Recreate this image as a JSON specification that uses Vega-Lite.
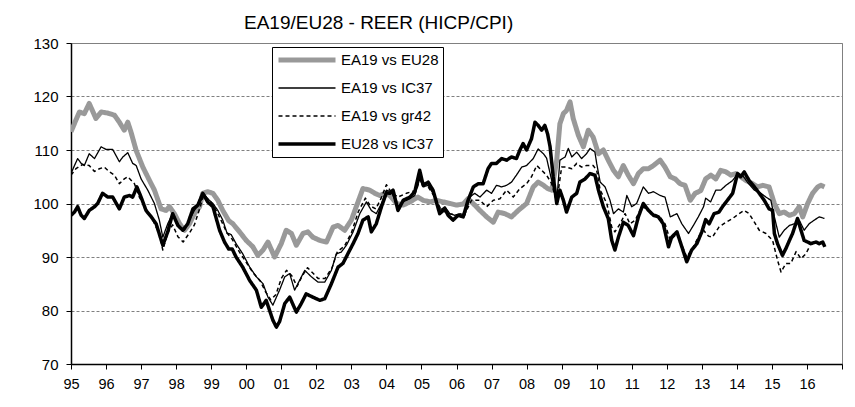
{
"$schema":"https://vega.github.io/schema/vega-lite/v6.json",
"width":771,"height":321,
"autosize":{"type":"none"},
"padding":{"left":71,"top":43,"right":13,"bottom":43},
"background":"white",
"title":{"text":"EA19/EU28 - REER (HICP/CPI)","font":"Liberation Sans","fontSize":19,"fontWeight":"normal","color":"black","anchor":"start","dx":211,"offset":-12,"baseline":"alphabetic"},
"config":{"view":{"stroke":"#808080","strokeWidth":1},
"axis":{"labelFont":"Liberation Sans","labelFontSize":15,"labelColor":"black","domainColor":"black","domainWidth":1.5,"tickColor":"black","tickSize":5,"title":null}},
"datasets":{"rows":[
{"s":"EA19 vs EU28","t":1995.0,"v":113.4},{"s":"EA19 vs EU28","t":1995.14,"v":115.6},{"s":"EA19 vs EU28","t":1995.24,"v":117.1},{"s":"EA19 vs EU28","t":1995.38,"v":116.8},{"s":"EA19 vs EU28","t":1995.52,"v":118.7},{"s":"EA19 vs EU28","t":1995.71,"v":115.9},{"s":"EA19 vs EU28","t":1995.86,"v":117.1},{"s":"EA19 vs EU28","t":1996.05,"v":116.9},{"s":"EA19 vs EU28","t":1996.24,"v":116.5},{"s":"EA19 vs EU28","t":1996.38,"v":115.2},{"s":"EA19 vs EU28","t":1996.52,"v":113.7},{"s":"EA19 vs EU28","t":1996.62,"v":115.2},{"s":"EA19 vs EU28","t":1996.71,"v":113.4},{"s":"EA19 vs EU28","t":1996.86,"v":109.9},{"s":"EA19 vs EU28","t":1997.05,"v":106.8},{"s":"EA19 vs EU28","t":1997.24,"v":104.3},{"s":"EA19 vs EU28","t":1997.38,"v":102.5},{"s":"EA19 vs EU28","t":1997.57,"v":99.0},{"s":"EA19 vs EU28","t":1997.71,"v":98.7},{"s":"EA19 vs EU28","t":1997.81,"v":99.4},{"s":"EA19 vs EU28","t":1997.95,"v":98.1},{"s":"EA19 vs EU28","t":1998.1,"v":96.2},{"s":"EA19 vs EU28","t":1998.24,"v":95.0},{"s":"EA19 vs EU28","t":1998.38,"v":96.2},{"s":"EA19 vs EU28","t":1998.52,"v":98.1},{"s":"EA19 vs EU28","t":1998.67,"v":99.4},{"s":"EA19 vs EU28","t":1998.76,"v":101.9},{"s":"EA19 vs EU28","t":1998.9,"v":102.2},{"s":"EA19 vs EU28","t":1999.05,"v":101.9},{"s":"EA19 vs EU28","t":1999.19,"v":100.6},{"s":"EA19 vs EU28","t":1999.33,"v":98.7},{"s":"EA19 vs EU28","t":1999.5,"v":96.8},{"s":"EA19 vs EU28","t":1999.62,"v":96.2},{"s":"EA19 vs EU28","t":1999.81,"v":94.7},{"s":"EA19 vs EU28","t":2000.0,"v":93.1},{"s":"EA19 vs EU28","t":2000.19,"v":91.9},{"s":"EA19 vs EU28","t":2000.33,"v":90.3},{"s":"EA19 vs EU28","t":2000.48,"v":91.3},{"s":"EA19 vs EU28","t":2000.62,"v":92.8},{"s":"EA19 vs EU28","t":2000.81,"v":90.0},{"s":"EA19 vs EU28","t":2001.0,"v":92.5},{"s":"EA19 vs EU28","t":2001.14,"v":95.0},{"s":"EA19 vs EU28","t":2001.29,"v":94.4},{"s":"EA19 vs EU28","t":2001.43,"v":92.2},{"s":"EA19 vs EU28","t":2001.62,"v":94.4},{"s":"EA19 vs EU28","t":2001.76,"v":94.7},{"s":"EA19 vs EU28","t":2001.9,"v":93.7},{"s":"EA19 vs EU28","t":2002.1,"v":93.1},{"s":"EA19 vs EU28","t":2002.29,"v":92.8},{"s":"EA19 vs EU28","t":2002.48,"v":95.6},{"s":"EA19 vs EU28","t":2002.62,"v":95.9},{"s":"EA19 vs EU28","t":2002.81,"v":95.0},{"s":"EA19 vs EU28","t":2003.0,"v":96.9},{"s":"EA19 vs EU28","t":2003.14,"v":99.4},{"s":"EA19 vs EU28","t":2003.33,"v":102.8},{"s":"EA19 vs EU28","t":2003.52,"v":102.5},{"s":"EA19 vs EU28","t":2003.67,"v":101.9},{"s":"EA19 vs EU28","t":2003.81,"v":101.5},{"s":"EA19 vs EU28","t":2004.0,"v":102.0},{"s":"EA19 vs EU28","t":2004.14,"v":101.2},{"s":"EA19 vs EU28","t":2004.29,"v":100.0},{"s":"EA19 vs EU28","t":2004.48,"v":99.7},{"s":"EA19 vs EU28","t":2004.67,"v":100.3},{"s":"EA19 vs EU28","t":2004.9,"v":101.2},{"s":"EA19 vs EU28","t":2005.05,"v":100.6},{"s":"EA19 vs EU28","t":2005.24,"v":100.3},{"s":"EA19 vs EU28","t":2005.43,"v":100.6},{"s":"EA19 vs EU28","t":2005.62,"v":100.3},{"s":"EA19 vs EU28","t":2005.81,"v":100.0},{"s":"EA19 vs EU28","t":2006.0,"v":99.7},{"s":"EA19 vs EU28","t":2006.19,"v":99.9},{"s":"EA19 vs EU28","t":2006.33,"v":100.9},{"s":"EA19 vs EU28","t":2006.52,"v":99.7},{"s":"EA19 vs EU28","t":2006.67,"v":98.7},{"s":"EA19 vs EU28","t":2006.86,"v":97.5},{"s":"EA19 vs EU28","t":2007.05,"v":96.5},{"s":"EA19 vs EU28","t":2007.19,"v":98.4},{"s":"EA19 vs EU28","t":2007.38,"v":98.1},{"s":"EA19 vs EU28","t":2007.57,"v":97.5},{"s":"EA19 vs EU28","t":2007.76,"v":98.7},{"s":"EA19 vs EU28","t":2008.0,"v":100.0},{"s":"EA19 vs EU28","t":2008.19,"v":103.1},{"s":"EA19 vs EU28","t":2008.33,"v":104.0},{"s":"EA19 vs EU28","t":2008.48,"v":103.4},{"s":"EA19 vs EU28","t":2008.6,"v":102.8},{"s":"EA19 vs EU28","t":2008.72,"v":102.5},{"s":"EA19 vs EU28","t":2008.86,"v":108.1},{"s":"EA19 vs EU28","t":2008.95,"v":114.9},{"s":"EA19 vs EU28","t":2009.05,"v":116.8},{"s":"EA19 vs EU28","t":2009.14,"v":117.4},{"s":"EA19 vs EU28","t":2009.24,"v":119.0},{"s":"EA19 vs EU28","t":2009.33,"v":115.9},{"s":"EA19 vs EU28","t":2009.48,"v":112.7},{"s":"EA19 vs EU28","t":2009.62,"v":110.6},{"s":"EA19 vs EU28","t":2009.76,"v":113.7},{"s":"EA19 vs EU28","t":2009.9,"v":112.4},{"s":"EA19 vs EU28","t":2010.05,"v":109.3},{"s":"EA19 vs EU28","t":2010.19,"v":110.0},{"s":"EA19 vs EU28","t":2010.33,"v":108.1},{"s":"EA19 vs EU28","t":2010.48,"v":106.2},{"s":"EA19 vs EU28","t":2010.62,"v":105.0},{"s":"EA19 vs EU28","t":2010.76,"v":107.1},{"s":"EA19 vs EU28","t":2010.9,"v":105.3},{"s":"EA19 vs EU28","t":2011.05,"v":103.7},{"s":"EA19 vs EU28","t":2011.19,"v":105.6},{"s":"EA19 vs EU28","t":2011.33,"v":106.5},{"s":"EA19 vs EU28","t":2011.48,"v":106.5},{"s":"EA19 vs EU28","t":2011.62,"v":107.1},{"s":"EA19 vs EU28","t":2011.81,"v":108.1},{"s":"EA19 vs EU28","t":2011.95,"v":106.8},{"s":"EA19 vs EU28","t":2012.1,"v":105.0},{"s":"EA19 vs EU28","t":2012.24,"v":104.6},{"s":"EA19 vs EU28","t":2012.38,"v":103.7},{"s":"EA19 vs EU28","t":2012.52,"v":103.4},{"s":"EA19 vs EU28","t":2012.67,"v":100.6},{"s":"EA19 vs EU28","t":2012.81,"v":101.9},{"s":"EA19 vs EU28","t":2012.97,"v":102.4},{"s":"EA19 vs EU28","t":2013.11,"v":104.6},{"s":"EA19 vs EU28","t":2013.26,"v":105.3},{"s":"EA19 vs EU28","t":2013.4,"v":104.6},{"s":"EA19 vs EU28","t":2013.54,"v":106.2},{"s":"EA19 vs EU28","t":2013.69,"v":105.9},{"s":"EA19 vs EU28","t":2013.83,"v":105.3},{"s":"EA19 vs EU28","t":2013.97,"v":105.6},{"s":"EA19 vs EU28","t":2014.11,"v":105.0},{"s":"EA19 vs EU28","t":2014.26,"v":104.3},{"s":"EA19 vs EU28","t":2014.45,"v":103.7},{"s":"EA19 vs EU28","t":2014.59,"v":103.1},{"s":"EA19 vs EU28","t":2014.74,"v":103.4},{"s":"EA19 vs EU28","t":2014.92,"v":103.1},{"s":"EA19 vs EU28","t":2015.07,"v":100.0},{"s":"EA19 vs EU28","t":2015.21,"v":98.1},{"s":"EA19 vs EU28","t":2015.35,"v":98.4},{"s":"EA19 vs EU28","t":2015.5,"v":97.8},{"s":"EA19 vs EU28","t":2015.64,"v":98.1},{"s":"EA19 vs EU28","t":2015.78,"v":99.4},{"s":"EA19 vs EU28","t":2015.88,"v":97.5},{"s":"EA19 vs EU28","t":2016.02,"v":100.0},{"s":"EA19 vs EU28","t":2016.16,"v":101.9},{"s":"EA19 vs EU28","t":2016.31,"v":103.1},{"s":"EA19 vs EU28","t":2016.4,"v":103.4},{"s":"EA19 vs EU28","t":2016.5,"v":103.1},
{"s":"EA19 vs IC37","t":1995.0,"v":105.6},{"s":"EA19 vs IC37","t":1995.1,"v":107.1},{"s":"EA19 vs IC37","t":1995.19,"v":108.4},{"s":"EA19 vs IC37","t":1995.29,"v":107.5},{"s":"EA19 vs IC37","t":1995.38,"v":107.1},{"s":"EA19 vs IC37","t":1995.52,"v":109.3},{"s":"EA19 vs IC37","t":1995.67,"v":108.4},{"s":"EA19 vs IC37","t":1995.86,"v":110.6},{"s":"EA19 vs IC37","t":1996.0,"v":110.1},{"s":"EA19 vs IC37","t":1996.19,"v":110.1},{"s":"EA19 vs IC37","t":1996.38,"v":107.8},{"s":"EA19 vs IC37","t":1996.48,"v":108.7},{"s":"EA19 vs IC37","t":1996.62,"v":109.5},{"s":"EA19 vs IC37","t":1996.76,"v":107.5},{"s":"EA19 vs IC37","t":1996.86,"v":107.1},{"s":"EA19 vs IC37","t":1997.0,"v":104.6},{"s":"EA19 vs IC37","t":1997.19,"v":102.5},{"s":"EA19 vs IC37","t":1997.38,"v":100.0},{"s":"EA19 vs IC37","t":1997.52,"v":96.9},{"s":"EA19 vs IC37","t":1997.62,"v":93.7},{"s":"EA19 vs IC37","t":1997.76,"v":96.2},{"s":"EA19 vs IC37","t":1997.9,"v":98.1},{"s":"EA19 vs IC37","t":1998.1,"v":95.6},{"s":"EA19 vs IC37","t":1998.24,"v":95.0},{"s":"EA19 vs IC37","t":1998.38,"v":96.9},{"s":"EA19 vs IC37","t":1998.52,"v":98.7},{"s":"EA19 vs IC37","t":1998.67,"v":100.0},{"s":"EA19 vs IC37","t":1998.78,"v":101.9},{"s":"EA19 vs IC37","t":1998.9,"v":100.9},{"s":"EA19 vs IC37","t":1999.05,"v":100.0},{"s":"EA19 vs IC37","t":1999.19,"v":98.7},{"s":"EA19 vs IC37","t":1999.33,"v":96.9},{"s":"EA19 vs IC37","t":1999.45,"v":94.5},{"s":"EA19 vs IC37","t":1999.57,"v":94.2},{"s":"EA19 vs IC37","t":1999.71,"v":92.5},{"s":"EA19 vs IC37","t":1999.9,"v":90.6},{"s":"EA19 vs IC37","t":2000.1,"v":88.1},{"s":"EA19 vs IC37","t":2000.29,"v":86.3},{"s":"EA19 vs IC37","t":2000.48,"v":85.0},{"s":"EA19 vs IC37","t":2000.62,"v":82.5},{"s":"EA19 vs IC37","t":2000.76,"v":81.0},{"s":"EA19 vs IC37","t":2000.95,"v":83.8},{"s":"EA19 vs IC37","t":2001.1,"v":86.3},{"s":"EA19 vs IC37","t":2001.24,"v":86.9},{"s":"EA19 vs IC37","t":2001.38,"v":83.8},{"s":"EA19 vs IC37","t":2001.52,"v":85.6},{"s":"EA19 vs IC37","t":2001.67,"v":87.5},{"s":"EA19 vs IC37","t":2001.86,"v":86.3},{"s":"EA19 vs IC37","t":2002.05,"v":85.3},{"s":"EA19 vs IC37","t":2002.24,"v":85.3},{"s":"EA19 vs IC37","t":2002.43,"v":87.5},{"s":"EA19 vs IC37","t":2002.57,"v":90.6},{"s":"EA19 vs IC37","t":2002.71,"v":90.9},{"s":"EA19 vs IC37","t":2002.86,"v":92.2},{"s":"EA19 vs IC37","t":2003.05,"v":94.7},{"s":"EA19 vs IC37","t":2003.24,"v":98.1},{"s":"EA19 vs IC37","t":2003.43,"v":100.3},{"s":"EA19 vs IC37","t":2003.57,"v":98.7},{"s":"EA19 vs IC37","t":2003.71,"v":98.1},{"s":"EA19 vs IC37","t":2003.86,"v":100.0},{"s":"EA19 vs IC37","t":2004.0,"v":102.5},{"s":"EA19 vs IC37","t":2004.14,"v":102.2},{"s":"EA19 vs IC37","t":2004.33,"v":99.4},{"s":"EA19 vs IC37","t":2004.48,"v":100.3},{"s":"EA19 vs IC37","t":2004.67,"v":100.9},{"s":"EA19 vs IC37","t":2004.81,"v":101.5},{"s":"EA19 vs IC37","t":2004.95,"v":104.6},{"s":"EA19 vs IC37","t":2005.05,"v":103.1},{"s":"EA19 vs IC37","t":2005.19,"v":103.4},{"s":"EA19 vs IC37","t":2005.33,"v":101.9},{"s":"EA19 vs IC37","t":2005.52,"v":98.7},{"s":"EA19 vs IC37","t":2005.67,"v":99.4},{"s":"EA19 vs IC37","t":2005.81,"v":98.1},{"s":"EA19 vs IC37","t":2005.95,"v":97.8},{"s":"EA19 vs IC37","t":2006.1,"v":98.1},{"s":"EA19 vs IC37","t":2006.24,"v":97.8},{"s":"EA19 vs IC37","t":2006.38,"v":101.2},{"s":"EA19 vs IC37","t":2006.52,"v":101.9},{"s":"EA19 vs IC37","t":2006.67,"v":101.2},{"s":"EA19 vs IC37","t":2006.86,"v":102.5},{"s":"EA19 vs IC37","t":2007.0,"v":101.9},{"s":"EA19 vs IC37","t":2007.14,"v":103.4},{"s":"EA19 vs IC37","t":2007.29,"v":103.1},{"s":"EA19 vs IC37","t":2007.43,"v":103.4},{"s":"EA19 vs IC37","t":2007.57,"v":104.0},{"s":"EA19 vs IC37","t":2007.71,"v":105.3},{"s":"EA19 vs IC37","t":2007.86,"v":106.8},{"s":"EA19 vs IC37","t":2008.0,"v":107.1},{"s":"EA19 vs IC37","t":2008.19,"v":108.4},{"s":"EA19 vs IC37","t":2008.33,"v":110.2},{"s":"EA19 vs IC37","t":2008.48,"v":109.3},{"s":"EA19 vs IC37","t":2008.57,"v":108.5},{"s":"EA19 vs IC37","t":2008.71,"v":104.5},{"s":"EA19 vs IC37","t":2008.86,"v":100.3},{"s":"EA19 vs IC37","t":2008.95,"v":108.1},{"s":"EA19 vs IC37","t":2009.1,"v":108.7},{"s":"EA19 vs IC37","t":2009.19,"v":110.3},{"s":"EA19 vs IC37","t":2009.29,"v":108.7},{"s":"EA19 vs IC37","t":2009.43,"v":109.6},{"s":"EA19 vs IC37","t":2009.57,"v":108.4},{"s":"EA19 vs IC37","t":2009.71,"v":109.3},{"s":"EA19 vs IC37","t":2009.81,"v":110.3},{"s":"EA19 vs IC37","t":2009.95,"v":109.6},{"s":"EA19 vs IC37","t":2010.0,"v":107.5},{"s":"EA19 vs IC37","t":2010.1,"v":104.0},{"s":"EA19 vs IC37","t":2010.24,"v":103.1},{"s":"EA19 vs IC37","t":2010.38,"v":100.6},{"s":"EA19 vs IC37","t":2010.48,"v":98.1},{"s":"EA19 vs IC37","t":2010.62,"v":99.0},{"s":"EA19 vs IC37","t":2010.76,"v":98.4},{"s":"EA19 vs IC37","t":2010.86,"v":101.5},{"s":"EA19 vs IC37","t":2011.0,"v":99.4},{"s":"EA19 vs IC37","t":2011.14,"v":100.0},{"s":"EA19 vs IC37","t":2011.33,"v":103.1},{"s":"EA19 vs IC37","t":2011.48,"v":101.9},{"s":"EA19 vs IC37","t":2011.62,"v":102.2},{"s":"EA19 vs IC37","t":2011.81,"v":101.5},{"s":"EA19 vs IC37","t":2011.95,"v":101.2},{"s":"EA19 vs IC37","t":2012.1,"v":97.5},{"s":"EA19 vs IC37","t":2012.29,"v":98.1},{"s":"EA19 vs IC37","t":2012.43,"v":96.2},{"s":"EA19 vs IC37","t":2012.62,"v":94.4},{"s":"EA19 vs IC37","t":2012.76,"v":95.9},{"s":"EA19 vs IC37","t":2012.9,"v":97.5},{"s":"EA19 vs IC37","t":2013.05,"v":99.4},{"s":"EA19 vs IC37","t":2013.11,"v":101.0},{"s":"EA19 vs IC37","t":2013.25,"v":100.3},{"s":"EA19 vs IC37","t":2013.4,"v":102.5},{"s":"EA19 vs IC37","t":2013.54,"v":102.5},{"s":"EA19 vs IC37","t":2013.69,"v":103.4},{"s":"EA19 vs IC37","t":2013.88,"v":104.3},{"s":"EA19 vs IC37","t":2014.02,"v":105.6},{"s":"EA19 vs IC37","t":2014.16,"v":105.3},{"s":"EA19 vs IC37","t":2014.3,"v":104.0},{"s":"EA19 vs IC37","t":2014.5,"v":102.5},{"s":"EA19 vs IC37","t":2014.69,"v":101.9},{"s":"EA19 vs IC37","t":2014.83,"v":101.2},{"s":"EA19 vs IC37","t":2014.97,"v":100.6},{"s":"EA19 vs IC37","t":2015.07,"v":97.5},{"s":"EA19 vs IC37","t":2015.21,"v":93.7},{"s":"EA19 vs IC37","t":2015.35,"v":95.0},{"s":"EA19 vs IC37","t":2015.5,"v":95.9},{"s":"EA19 vs IC37","t":2015.64,"v":96.2},{"s":"EA19 vs IC37","t":2015.78,"v":96.9},{"s":"EA19 vs IC37","t":2015.92,"v":95.0},{"s":"EA19 vs IC37","t":2016.06,"v":96.2},{"s":"EA19 vs IC37","t":2016.21,"v":96.9},{"s":"EA19 vs IC37","t":2016.35,"v":97.5},{"s":"EA19 vs IC37","t":2016.5,"v":97.2},
{"s":"EA19 vs gr42","t":1995.0,"v":105.3},{"s":"EA19 vs gr42","t":1995.14,"v":106.5},{"s":"EA19 vs gr42","t":1995.33,"v":107.3},{"s":"EA19 vs gr42","t":1995.52,"v":107.1},{"s":"EA19 vs gr42","t":1995.67,"v":106.0},{"s":"EA19 vs gr42","t":1995.81,"v":106.5},{"s":"EA19 vs gr42","t":1995.95,"v":106.8},{"s":"EA19 vs gr42","t":1996.1,"v":105.9},{"s":"EA19 vs gr42","t":1996.24,"v":105.3},{"s":"EA19 vs gr42","t":1996.38,"v":103.7},{"s":"EA19 vs gr42","t":1996.52,"v":104.6},{"s":"EA19 vs gr42","t":1996.62,"v":105.0},{"s":"EA19 vs gr42","t":1996.81,"v":103.7},{"s":"EA19 vs gr42","t":1996.95,"v":101.2},{"s":"EA19 vs gr42","t":1997.14,"v":99.0},{"s":"EA19 vs gr42","t":1997.33,"v":97.0},{"s":"EA19 vs gr42","t":1997.52,"v":94.3},{"s":"EA19 vs gr42","t":1997.62,"v":91.3},{"s":"EA19 vs gr42","t":1997.76,"v":94.5},{"s":"EA19 vs gr42","t":1997.9,"v":96.0},{"s":"EA19 vs gr42","t":1998.05,"v":93.8},{"s":"EA19 vs gr42","t":1998.2,"v":92.8},{"s":"EA19 vs gr42","t":1998.38,"v":94.5},{"s":"EA19 vs gr42","t":1998.52,"v":96.0},{"s":"EA19 vs gr42","t":1998.67,"v":99.0},{"s":"EA19 vs gr42","t":1998.78,"v":101.5},{"s":"EA19 vs gr42","t":1998.9,"v":100.9},{"s":"EA19 vs gr42","t":1999.05,"v":99.8},{"s":"EA19 vs gr42","t":1999.19,"v":98.1},{"s":"EA19 vs gr42","t":1999.33,"v":96.2},{"s":"EA19 vs gr42","t":1999.45,"v":94.5},{"s":"EA19 vs gr42","t":1999.6,"v":93.3},{"s":"EA19 vs gr42","t":1999.8,"v":91.0},{"s":"EA19 vs gr42","t":2000.0,"v":89.0},{"s":"EA19 vs gr42","t":2000.2,"v":87.0},{"s":"EA19 vs gr42","t":2000.4,"v":85.5},{"s":"EA19 vs gr42","t":2000.55,"v":83.5},{"s":"EA19 vs gr42","t":2000.7,"v":82.0},{"s":"EA19 vs gr42","t":2000.85,"v":83.0},{"s":"EA19 vs gr42","t":2001.0,"v":86.0},{"s":"EA19 vs gr42","t":2001.15,"v":87.5},{"s":"EA19 vs gr42","t":2001.3,"v":86.5},{"s":"EA19 vs gr42","t":2001.45,"v":84.5},{"s":"EA19 vs gr42","t":2001.6,"v":86.5},{"s":"EA19 vs gr42","t":2001.75,"v":88.0},{"s":"EA19 vs gr42","t":2001.9,"v":87.0},{"s":"EA19 vs gr42","t":2002.05,"v":86.0},{"s":"EA19 vs gr42","t":2002.25,"v":86.0},{"s":"EA19 vs gr42","t":2002.45,"v":88.0},{"s":"EA19 vs gr42","t":2002.6,"v":91.0},{"s":"EA19 vs gr42","t":2002.8,"v":92.0},{"s":"EA19 vs gr42","t":2003.0,"v":94.5},{"s":"EA19 vs gr42","t":2003.2,"v":98.5},{"s":"EA19 vs gr42","t":2003.4,"v":101.0},{"s":"EA19 vs gr42","t":2003.55,"v":99.5},{"s":"EA19 vs gr42","t":2003.7,"v":99.0},{"s":"EA19 vs gr42","t":2003.85,"v":101.0},{"s":"EA19 vs gr42","t":2004.0,"v":103.5},{"s":"EA19 vs gr42","t":2004.15,"v":102.0},{"s":"EA19 vs gr42","t":2004.33,"v":101.2},{"s":"EA19 vs gr42","t":2004.57,"v":101.9},{"s":"EA19 vs gr42","t":2004.86,"v":102.5},{"s":"EA19 vs gr42","t":2004.95,"v":104.6},{"s":"EA19 vs gr42","t":2005.19,"v":103.1},{"s":"EA19 vs gr42","t":2005.38,"v":101.2},{"s":"EA19 vs gr42","t":2005.57,"v":98.7},{"s":"EA19 vs gr42","t":2005.81,"v":98.1},{"s":"EA19 vs gr42","t":2006.0,"v":97.8},{"s":"EA19 vs gr42","t":2006.24,"v":98.1},{"s":"EA19 vs gr42","t":2006.43,"v":100.6},{"s":"EA19 vs gr42","t":2006.67,"v":100.6},{"s":"EA19 vs gr42","t":2006.86,"v":99.4},{"s":"EA19 vs gr42","t":2007.05,"v":100.6},{"s":"EA19 vs gr42","t":2007.24,"v":100.9},{"s":"EA19 vs gr42","t":2007.43,"v":102.5},{"s":"EA19 vs gr42","t":2007.62,"v":101.2},{"s":"EA19 vs gr42","t":2007.81,"v":102.8},{"s":"EA19 vs gr42","t":2008.0,"v":103.7},{"s":"EA19 vs gr42","t":2008.14,"v":105.0},{"s":"EA19 vs gr42","t":2008.29,"v":107.1},{"s":"EA19 vs gr42","t":2008.43,"v":106.2},{"s":"EA19 vs gr42","t":2008.57,"v":105.3},{"s":"EA19 vs gr42","t":2008.71,"v":103.8},{"s":"EA19 vs gr42","t":2008.86,"v":100.3},{"s":"EA19 vs gr42","t":2009.0,"v":106.8},{"s":"EA19 vs gr42","t":2009.14,"v":106.8},{"s":"EA19 vs gr42","t":2009.29,"v":106.5},{"s":"EA19 vs gr42","t":2009.43,"v":107.5},{"s":"EA19 vs gr42","t":2009.57,"v":106.8},{"s":"EA19 vs gr42","t":2009.71,"v":107.1},{"s":"EA19 vs gr42","t":2009.9,"v":107.1},{"s":"EA19 vs gr42","t":2010.0,"v":106.2},{"s":"EA19 vs gr42","t":2010.1,"v":102.5},{"s":"EA19 vs gr42","t":2010.29,"v":100.0},{"s":"EA19 vs gr42","t":2010.43,"v":95.6},{"s":"EA19 vs gr42","t":2010.52,"v":94.7},{"s":"EA19 vs gr42","t":2010.67,"v":96.2},{"s":"EA19 vs gr42","t":2010.81,"v":98.1},{"s":"EA19 vs gr42","t":2010.95,"v":96.2},{"s":"EA19 vs gr42","t":2011.1,"v":96.9},{"s":"EA19 vs gr42","t":2011.29,"v":99.4},{"s":"EA19 vs gr42","t":2011.43,"v":99.0},{"s":"EA19 vs gr42","t":2011.62,"v":98.1},{"s":"EA19 vs gr42","t":2011.81,"v":97.5},{"s":"EA19 vs gr42","t":2011.95,"v":96.2},{"s":"EA19 vs gr42","t":2012.1,"v":93.1},{"s":"EA19 vs gr42","t":2012.29,"v":94.4},{"s":"EA19 vs gr42","t":2012.43,"v":92.2},{"s":"EA19 vs gr42","t":2012.57,"v":90.0},{"s":"EA19 vs gr42","t":2012.76,"v":91.9},{"s":"EA19 vs gr42","t":2012.9,"v":93.7},{"s":"EA19 vs gr42","t":2013.05,"v":95.0},{"s":"EA19 vs gr42","t":2013.19,"v":93.9},{"s":"EA19 vs gr42","t":2013.3,"v":93.7},{"s":"EA19 vs gr42","t":2013.49,"v":95.6},{"s":"EA19 vs gr42","t":2013.69,"v":96.5},{"s":"EA19 vs gr42","t":2013.88,"v":97.2},{"s":"EA19 vs gr42","t":2014.06,"v":98.1},{"s":"EA19 vs gr42","t":2014.21,"v":98.7},{"s":"EA19 vs gr42","t":2014.35,"v":98.1},{"s":"EA19 vs gr42","t":2014.5,"v":96.5},{"s":"EA19 vs gr42","t":2014.64,"v":95.0},{"s":"EA19 vs gr42","t":2014.83,"v":94.4},{"s":"EA19 vs gr42","t":2015.02,"v":93.1},{"s":"EA19 vs gr42","t":2015.16,"v":89.4},{"s":"EA19 vs gr42","t":2015.26,"v":87.2},{"s":"EA19 vs gr42","t":2015.4,"v":88.8},{"s":"EA19 vs gr42","t":2015.54,"v":88.8},{"s":"EA19 vs gr42","t":2015.69,"v":91.0},{"s":"EA19 vs gr42","t":2015.83,"v":89.7},{"s":"EA19 vs gr42","t":2015.97,"v":90.6},{"s":"EA19 vs gr42","t":2016.07,"v":91.9},
{"s":"EU28 vs IC37","t":1995.0,"v":97.8},{"s":"EU28 vs IC37","t":1995.1,"v":98.4},{"s":"EU28 vs IC37","t":1995.19,"v":99.4},{"s":"EU28 vs IC37","t":1995.29,"v":97.8},{"s":"EU28 vs IC37","t":1995.38,"v":97.2},{"s":"EU28 vs IC37","t":1995.52,"v":98.7},{"s":"EU28 vs IC37","t":1995.67,"v":99.4},{"s":"EU28 vs IC37","t":1995.76,"v":100.0},{"s":"EU28 vs IC37","t":1995.9,"v":101.9},{"s":"EU28 vs IC37","t":1996.05,"v":101.2},{"s":"EU28 vs IC37","t":1996.19,"v":101.2},{"s":"EU28 vs IC37","t":1996.38,"v":99.0},{"s":"EU28 vs IC37","t":1996.52,"v":101.2},{"s":"EU28 vs IC37","t":1996.67,"v":101.5},{"s":"EU28 vs IC37","t":1996.76,"v":101.2},{"s":"EU28 vs IC37","t":1996.88,"v":103.1},{"s":"EU28 vs IC37","t":1997.0,"v":101.2},{"s":"EU28 vs IC37","t":1997.14,"v":98.7},{"s":"EU28 vs IC37","t":1997.29,"v":97.5},{"s":"EU28 vs IC37","t":1997.43,"v":96.2},{"s":"EU28 vs IC37","t":1997.62,"v":92.2},{"s":"EU28 vs IC37","t":1997.76,"v":94.7},{"s":"EU28 vs IC37","t":1997.9,"v":98.1},{"s":"EU28 vs IC37","t":1998.05,"v":95.9},{"s":"EU28 vs IC37","t":1998.19,"v":95.0},{"s":"EU28 vs IC37","t":1998.33,"v":96.2},{"s":"EU28 vs IC37","t":1998.48,"v":99.0},{"s":"EU28 vs IC37","t":1998.62,"v":99.7},{"s":"EU28 vs IC37","t":1998.76,"v":101.9},{"s":"EU28 vs IC37","t":1998.9,"v":100.3},{"s":"EU28 vs IC37","t":1999.05,"v":99.4},{"s":"EU28 vs IC37","t":1999.24,"v":95.0},{"s":"EU28 vs IC37","t":1999.38,"v":92.8},{"s":"EU28 vs IC37","t":1999.5,"v":91.5},{"s":"EU28 vs IC37","t":1999.6,"v":91.5},{"s":"EU28 vs IC37","t":1999.71,"v":90.0},{"s":"EU28 vs IC37","t":1999.9,"v":88.1},{"s":"EU28 vs IC37","t":2000.1,"v":85.6},{"s":"EU28 vs IC37","t":2000.29,"v":83.8},{"s":"EU28 vs IC37","t":2000.43,"v":80.6},{"s":"EU28 vs IC37","t":2000.57,"v":81.9},{"s":"EU28 vs IC37","t":2000.76,"v":78.2},{"s":"EU28 vs IC37","t":2000.86,"v":76.9},{"s":"EU28 vs IC37","t":2000.95,"v":77.9},{"s":"EU28 vs IC37","t":2001.1,"v":81.3},{"s":"EU28 vs IC37","t":2001.24,"v":82.5},{"s":"EU28 vs IC37","t":2001.43,"v":79.7},{"s":"EU28 vs IC37","t":2001.57,"v":81.3},{"s":"EU28 vs IC37","t":2001.71,"v":83.1},{"s":"EU28 vs IC37","t":2001.9,"v":82.5},{"s":"EU28 vs IC37","t":2002.1,"v":81.9},{"s":"EU28 vs IC37","t":2002.24,"v":82.2},{"s":"EU28 vs IC37","t":2002.43,"v":85.0},{"s":"EU28 vs IC37","t":2002.62,"v":88.1},{"s":"EU28 vs IC37","t":2002.76,"v":88.8},{"s":"EU28 vs IC37","t":2002.9,"v":90.6},{"s":"EU28 vs IC37","t":2003.05,"v":92.5},{"s":"EU28 vs IC37","t":2003.19,"v":94.4},{"s":"EU28 vs IC37","t":2003.33,"v":96.9},{"s":"EU28 vs IC37","t":2003.48,"v":97.5},{"s":"EU28 vs IC37","t":2003.57,"v":94.7},{"s":"EU28 vs IC37","t":2003.71,"v":96.2},{"s":"EU28 vs IC37","t":2003.86,"v":99.4},{"s":"EU28 vs IC37","t":2004.0,"v":102.0},{"s":"EU28 vs IC37","t":2004.1,"v":101.9},{"s":"EU28 vs IC37","t":2004.19,"v":102.5},{"s":"EU28 vs IC37","t":2004.33,"v":98.7},{"s":"EU28 vs IC37","t":2004.48,"v":100.6},{"s":"EU28 vs IC37","t":2004.67,"v":101.2},{"s":"EU28 vs IC37","t":2004.81,"v":102.2},{"s":"EU28 vs IC37","t":2004.95,"v":106.2},{"s":"EU28 vs IC37","t":2005.05,"v":103.4},{"s":"EU28 vs IC37","t":2005.19,"v":104.0},{"s":"EU28 vs IC37","t":2005.33,"v":102.5},{"s":"EU28 vs IC37","t":2005.52,"v":98.1},{"s":"EU28 vs IC37","t":2005.67,"v":99.0},{"s":"EU28 vs IC37","t":2005.76,"v":97.8},{"s":"EU28 vs IC37","t":2005.9,"v":96.9},{"s":"EU28 vs IC37","t":2006.05,"v":97.8},{"s":"EU28 vs IC37","t":2006.19,"v":97.5},{"s":"EU28 vs IC37","t":2006.33,"v":100.6},{"s":"EU28 vs IC37","t":2006.48,"v":103.1},{"s":"EU28 vs IC37","t":2006.62,"v":103.7},{"s":"EU28 vs IC37","t":2006.76,"v":103.7},{"s":"EU28 vs IC37","t":2006.9,"v":106.5},{"s":"EU28 vs IC37","t":2007.0,"v":107.5},{"s":"EU28 vs IC37","t":2007.14,"v":107.5},{"s":"EU28 vs IC37","t":2007.29,"v":108.4},{"s":"EU28 vs IC37","t":2007.43,"v":108.1},{"s":"EU28 vs IC37","t":2007.57,"v":108.7},{"s":"EU28 vs IC37","t":2007.71,"v":108.4},{"s":"EU28 vs IC37","t":2007.81,"v":110.0},{"s":"EU28 vs IC37","t":2007.9,"v":111.2},{"s":"EU28 vs IC37","t":2008.0,"v":110.0},{"s":"EU28 vs IC37","t":2008.14,"v":112.1},{"s":"EU28 vs IC37","t":2008.24,"v":115.2},{"s":"EU28 vs IC37","t":2008.33,"v":114.6},{"s":"EU28 vs IC37","t":2008.43,"v":113.7},{"s":"EU28 vs IC37","t":2008.52,"v":114.6},{"s":"EU28 vs IC37","t":2008.6,"v":113.0},{"s":"EU28 vs IC37","t":2008.67,"v":110.6},{"s":"EU28 vs IC37","t":2008.76,"v":105.0},{"s":"EU28 vs IC37","t":2008.86,"v":100.0},{"s":"EU28 vs IC37","t":2008.95,"v":102.5},{"s":"EU28 vs IC37","t":2009.05,"v":100.6},{"s":"EU28 vs IC37","t":2009.14,"v":98.4},{"s":"EU28 vs IC37","t":2009.29,"v":101.2},{"s":"EU28 vs IC37","t":2009.43,"v":101.9},{"s":"EU28 vs IC37","t":2009.52,"v":104.0},{"s":"EU28 vs IC37","t":2009.67,"v":104.6},{"s":"EU28 vs IC37","t":2009.81,"v":105.6},{"s":"EU28 vs IC37","t":2009.95,"v":105.3},{"s":"EU28 vs IC37","t":2010.05,"v":102.5},{"s":"EU28 vs IC37","t":2010.19,"v":99.4},{"s":"EU28 vs IC37","t":2010.33,"v":97.2},{"s":"EU28 vs IC37","t":2010.43,"v":93.1},{"s":"EU28 vs IC37","t":2010.52,"v":91.3},{"s":"EU28 vs IC37","t":2010.62,"v":93.7},{"s":"EU28 vs IC37","t":2010.76,"v":96.5},{"s":"EU28 vs IC37","t":2010.9,"v":95.9},{"s":"EU28 vs IC37","t":2011.05,"v":94.0},{"s":"EU28 vs IC37","t":2011.19,"v":97.5},{"s":"EU28 vs IC37","t":2011.33,"v":100.0},{"s":"EU28 vs IC37","t":2011.48,"v":98.7},{"s":"EU28 vs IC37","t":2011.62,"v":97.8},{"s":"EU28 vs IC37","t":2011.76,"v":97.5},{"s":"EU28 vs IC37","t":2011.9,"v":96.2},{"s":"EU28 vs IC37","t":2012.05,"v":91.9},{"s":"EU28 vs IC37","t":2012.14,"v":93.7},{"s":"EU28 vs IC37","t":2012.29,"v":94.7},{"s":"EU28 vs IC37","t":2012.43,"v":91.9},{"s":"EU28 vs IC37","t":2012.57,"v":89.1},{"s":"EU28 vs IC37","t":2012.71,"v":91.3},{"s":"EU28 vs IC37","t":2012.86,"v":92.5},{"s":"EU28 vs IC37","t":2013.0,"v":94.7},{"s":"EU28 vs IC37","t":2013.11,"v":97.0},{"s":"EU28 vs IC37","t":2013.21,"v":96.2},{"s":"EU28 vs IC37","t":2013.35,"v":98.1},{"s":"EU28 vs IC37","t":2013.49,"v":98.4},{"s":"EU28 vs IC37","t":2013.59,"v":99.4},{"s":"EU28 vs IC37","t":2013.73,"v":100.6},{"s":"EU28 vs IC37","t":2013.88,"v":101.9},{"s":"EU28 vs IC37","t":2014.02,"v":105.6},{"s":"EU28 vs IC37","t":2014.11,"v":105.0},{"s":"EU28 vs IC37","t":2014.21,"v":105.9},{"s":"EU28 vs IC37","t":2014.35,"v":104.3},{"s":"EU28 vs IC37","t":2014.5,"v":103.1},{"s":"EU28 vs IC37","t":2014.64,"v":101.9},{"s":"EU28 vs IC37","t":2014.78,"v":100.6},{"s":"EU28 vs IC37","t":2014.92,"v":99.0},{"s":"EU28 vs IC37","t":2015.02,"v":98.7},{"s":"EU28 vs IC37","t":2015.07,"v":94.4},{"s":"EU28 vs IC37","t":2015.16,"v":92.5},{"s":"EU28 vs IC37","t":2015.3,"v":90.3},{"s":"EU28 vs IC37","t":2015.4,"v":91.6},{"s":"EU28 vs IC37","t":2015.5,"v":93.1},{"s":"EU28 vs IC37","t":2015.59,"v":94.4},{"s":"EU28 vs IC37","t":2015.73,"v":97.2},{"s":"EU28 vs IC37","t":2015.83,"v":95.0},{"s":"EU28 vs IC37","t":2015.92,"v":93.1},{"s":"EU28 vs IC37","t":2016.02,"v":92.8},{"s":"EU28 vs IC37","t":2016.11,"v":92.5},{"s":"EU28 vs IC37","t":2016.26,"v":92.8},{"s":"EU28 vs IC37","t":2016.35,"v":92.5},{"s":"EU28 vs IC37","t":2016.45,"v":92.8},{"s":"EU28 vs IC37","t":2016.51,"v":91.9}
]},
"data":{"name":"rows"},
"mark":{"type":"line","clip":true,"strokeJoin":"round"},
"encoding":{
"x":{"field":"t","type":"quantitative","scale":{"domain":[1995,2017],"nice":false,"zero":false},
"axis":{"values":[1995,1996,1997,1998,1999,2000,2001,2002,2003,2004,2005,2006,2007,2008,2009,2010,2011,2012,2013,2014,2015,2016,2017],"labelExpr":"datum.value < 2017 ? substring(toString(datum.value), 2) : ''","grid":false,"labelPadding":8,"labelFontSize":14.5,"labelFlush":false,"labelOverlap":false}},
"y":{"field":"v","type":"quantitative","scale":{"domain":[70,130],"nice":false,"zero":false},
"axis":{"values":[70,80,90,100,110,120,130],"grid":true,"gridColor":"#808080","gridDash":[3,2],"gridWidth":1,"labelPadding":8}},
"color":{"field":"s","type":"nominal","scale":{"domain":["EA19 vs EU28","EA19 vs IC37","EA19 vs gr42","EU28 vs IC37"],"range":["#999999","#000000","#000000","#000000"]},
"legend":{"title":null,"orient":"none","legendX":201,"legendY":4,"strokeColor":"black","fillColor":"white","padding":4,"symbolType":"stroke","symbolSize":3249,"clipHeight":18,"labelFont":"Liberation Sans","labelFontSize":15,"labelColor":"black","rowPadding":10,"labelOffset":3}},
"strokeWidth":{"field":"s","type":"nominal","scale":{"type":"ordinal","domain":["EA19 vs EU28","EA19 vs IC37","EA19 vs gr42","EU28 vs IC37"],"range":[5,1.3,1.5,3.5]},"legend":{"title":null}},
"strokeDash":{"field":"s","type":"nominal","scale":{"domain":["EA19 vs EU28","EA19 vs IC37","EA19 vs gr42","EU28 vs IC37"],"range":[[1,0],[1,0],[4,3],[1,0]]},"legend":{"title":null}}
}
}
